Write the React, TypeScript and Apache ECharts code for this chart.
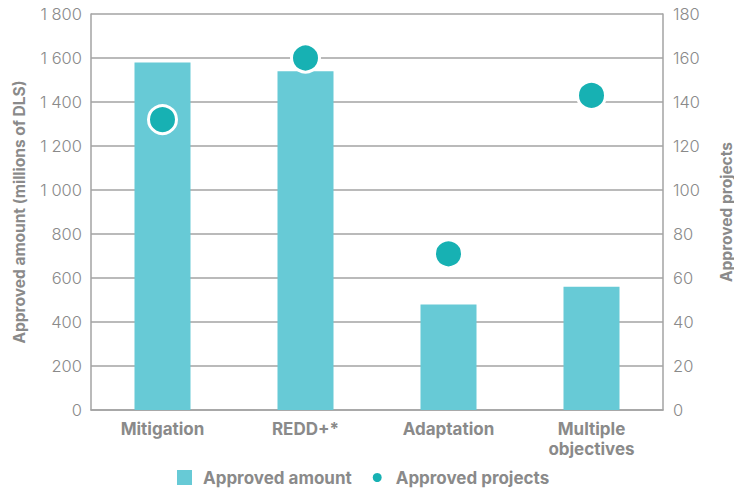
import React, { useEffect, useRef } from "react";
import * as echarts from "echarts";

const categories = ["Mitigation", "REDD+*", "Adaptation", "Multiple\nobjectives"];
const approvedAmount = [1580, 1540, 480, 560];
const approvedProjects = [132, 160, 71, 143];

const TEXT = "#8a8a8a";
const GRID = "#a3a3a3";
const BAR = "#67cad6";
const DOT = "#17b1b3";
const FONT = "Inter";

const spaced = (v: number) => String(v).replace(/\B(?=(\d{3})+(?!\d))/g, " ");

export default function App() {
  const ref = useRef<HTMLDivElement>(null);
  useEffect(() => {
    if (!ref.current) return;
    const chart = echarts.init(ref.current, undefined, { renderer: "svg" });
    chart.setOption({
      animation: false,
      textStyle: { fontFamily: FONT },
      grid: { left: 91, right: 71, top: 14, bottom: 80, outerBoundsMode: "none", containLabel: false },
      legend: {
        left: 172,
        top: 462,
        itemWidth: 15,
        itemHeight: 15,
        itemGap: 15,
        textStyle: { color: TEXT, fontSize: 17, fontWeight: "bold", fontFamily: FONT, padding: [0, 0, 0, 6] },
        data: [
          { name: "Approved amount", icon: "rect" },
          { name: "Approved projects", icon: "circle", itemStyle: { borderColor: "#fff", borderWidth: 6 } },
        ],
      },
      xAxis: {
        type: "category",
        data: categories,
        axisLine: { lineStyle: { color: GRID, width: 1.5 } },
        axisTick: { show: false },
        axisLabel: {
          color: TEXT,
          fontSize: 17,
          fontWeight: "bold",
          fontFamily: FONT,
          lineHeight: 20,
          margin: 9,
          interval: 0,
        },
      },
      yAxis: [
        {
          type: "value",
          min: 0,
          max: 1800,
          interval: 200,
          name: "Approved amount (millions of DLS)",
          nameLocation: "middle",
          nameGap: 64,
          nameTextStyle: { color: TEXT, fontSize: 15.5, fontWeight: "bold", fontFamily: FONT },
          axisLine: { show: true, lineStyle: { color: GRID, width: 1.5 } },
          axisTick: { show: false },
          splitLine: { lineStyle: { color: GRID, width: 1.5 } },
          axisLabel: {
            color: TEXT,
            fontSize: 16.5,
            fontWeight: 300,
            fontFamily: FONT,
            margin: 9,
            formatter: (v: number) => spaced(v),
          },
        },
        {
          type: "value",
          min: 0,
          max: 180,
          interval: 20,
          name: "Approved projects",
          nameLocation: "middle",
          nameGap: 55,
          nameTextStyle: { color: TEXT, fontSize: 15.5, fontWeight: "bold", fontFamily: FONT },
          axisLine: { show: true, lineStyle: { color: GRID, width: 1.5 } },
          axisTick: { show: false },
          splitLine: { show: false },
          axisLabel: { color: TEXT, fontSize: 16.5, fontWeight: 300, fontFamily: FONT, margin: 10 },
        },
      ],
      series: [
        {
          name: "Approved amount",
          type: "bar",
          data: approvedAmount,
          barWidth: 56,
          itemStyle: { color: BAR },
          yAxisIndex: 0,
        },
        {
          name: "Approved projects",
          type: "scatter",
          data: approvedProjects,
          yAxisIndex: 1,
          symbolSize: 28,
          itemStyle: { color: DOT, borderColor: "#fff", borderWidth: 3, opacity: 1 },
        },
      ],
    });
    return () => chart.dispose();
  }, []);
  return <div ref={ref} style={{ width: 734, height: 490, position: "absolute", left: 0, top: 0 }} />;
}
